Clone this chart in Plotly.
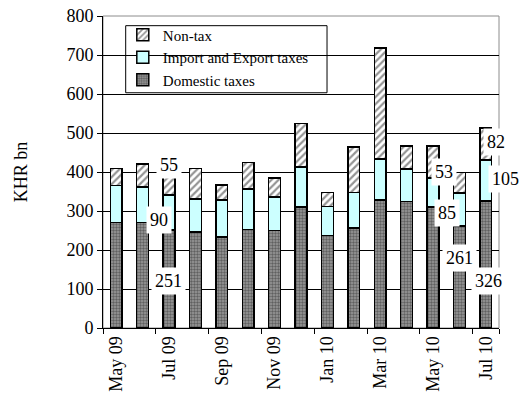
import plotly.graph_objects as go

months = ["May 09", "Jun 09", "Jul 09", "Aug 09", "Sep 09", "Oct 09", "Nov 09", "Dec 09",
          "Jan 10", "Feb 10", "Mar 10", "Apr 10", "May 10", "Jun 10", "Jul 10"]
domestic = [270, 270, 251, 246, 233, 252, 250, 310, 237, 256, 328, 324, 310, 261, 326]
import_export = [95, 92, 90, 85, 95, 104, 86, 103, 75, 91, 105, 84, 74, 85, 105]
non_tax = [44, 58, 55, 78, 39, 69, 49, 112, 36, 117, 285, 59, 83, 53, 82]
tick_labels = months[::2]
labelled_months = ["Jul 09", "Jun 10", "Jul 10"]

# pixel offsets for manually placed data labels (style only): (xshift, yshift) per segment
label_offsets = {
    "Jul 09": [(-1, -2), (-10, -7), (0, 19)],
    "Jun 10": [(0, 19), (-12, -3), (-15, 11)],
    "Jul 10": [(3, -17), (20, 1), (10, 2)],
}

FONT = "Liberation Serif, Times New Roman, serif"

fig = go.Figure()
fig.add_trace(go.Bar(
    x=months, y=domestic, name="Domestic taxes",
    marker=dict(color="#9a9a9a", line=dict(color="black", width=1.5),
                pattern=dict(shape=".", fgcolor="#262626", size=3, solidity=0.5, fillmode="overlay")),
))
fig.add_trace(go.Bar(
    x=months, y=import_export, name="Import and Export taxes",
    marker=dict(color="#CCFFFF", line=dict(color="black", width=1.5)),
))
fig.add_trace(go.Bar(
    x=months, y=non_tax, name="Non-tax",
    marker=dict(color="white", line=dict(color="black", width=1.5),
                pattern=dict(shape="/", fgcolor="#2a2a2a", size=5, solidity=0.45, fillmode="overlay")),
))

annotations = []
for m in labelled_months:
    i = months.index(m)
    segs = [domestic[i], import_export[i], non_tax[i]]
    base = 0
    for k, v in enumerate(segs):
        xs, ys = label_offsets[m][k]
        annotations.append(dict(
            x=m, y=base + v / 2, xref="x", yref="y", text=str(v), showarrow=False,
            xshift=xs, yshift=ys, bgcolor="white", borderpad=3,
            font=dict(family=FONT, size=18, color="black"),
        ))
        base += v

fig.update_layout(
    width=523, height=410,
    margin=dict(l=103, r=24, t=16, b=82, autoexpand=False),
    paper_bgcolor="white", plot_bgcolor="white",
    barmode="stack", bargap=0.55,
    font=dict(family=FONT, size=18, color="black"),
    showlegend=True,
    legend=dict(
        x=0.05, y=0.992, xanchor="left", yanchor="top",
        bgcolor="rgba(0,0,0,0)", borderwidth=0,
        font=dict(family=FONT, size=15, color="black"),
        traceorder="reversed", tracegroupgap=0, itemwidth=30,
    ),
    annotations=annotations,
    shapes=[
        dict(type="rect", xref="paper", yref="paper", x0=0, x1=1, y0=0, y1=1,
             line=dict(color="#8c8c8c", width=1), layer="below"),
        # legend frame
        dict(type="rect", xref="paper", yref="paper", x0=0.0573, x1=0.5657, y0=0.754, y1=0.969,
             line=dict(color="black", width=1), fillcolor="white", layer="between"),
    ],
)
fig.update_xaxes(
    type="category", range=[-0.5, len(months) - 0.5],
    tickmode="array", tickvals=tick_labels, ticktext=tick_labels,
    tickson="boundaries", ticks="outside", ticklen=5, tickcolor="black",
    tickangle=-90, showgrid=False, showline=True, linecolor="black", linewidth=1,
    tickfont=dict(family=FONT, size=18), automargin=False,
)
fig.update_yaxes(
    range=[0, 800], dtick=100, ticks="outside", ticklen=5, tickcolor="black",
    showgrid=True, gridcolor="black", gridwidth=1,
    showline=True, linecolor="black", linewidth=1, zeroline=False,
    tickfont=dict(family=FONT, size=18), automargin=False,
    title=dict(text="KHR bn", font=dict(family=FONT, size=18), standoff=34),
)

fig.write_html("out.html", config={"displayModeBar": False},
               post_script="document.body.style.margin='0';")
